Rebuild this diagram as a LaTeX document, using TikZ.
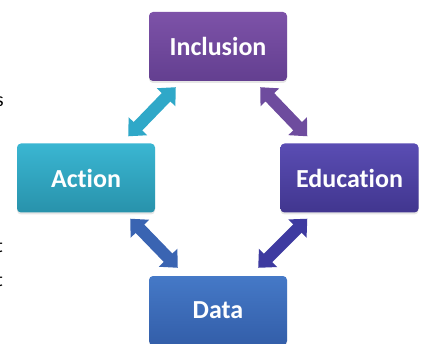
\documentclass[tikz,border=0pt]{standalone}
\usepackage{fontspec}
\setmainfont{Carlito}[Ligatures=NoCommon]
\usepackage{tikz}
\usetikzlibrary{arrows.meta,shadows,calc}

\definecolor{incltop}{HTML}{7D52A8}
\definecolor{inclbot}{HTML}{633F90}
\definecolor{acttop}{HTML}{3AB6D2}
\definecolor{actbot}{HTML}{2892AB}
\definecolor{edutop}{HTML}{5A4DB3}
\definecolor{edubot}{HTML}{41368F}
\definecolor{datatop}{HTML}{4579C7}
\definecolor{databot}{HTML}{335EA9}

\begin{document}
\begin{tikzpicture}[
  box/.style={rounded corners=4pt,minimum width=138pt,minimum height=69pt,inner sep=0pt,
    text=white,font=\fontsize{26}{30}\selectfont\bfseries,
    drop shadow={opacity=0.2,shadow xshift=0pt,shadow yshift=-2pt}},
  link/.style={line width=12pt,{Triangle[width=25pt,length=14pt]}-{Triangle[width=25pt,length=14pt]}},
  frag/.style={anchor=east,inner sep=0pt,font=\fontsize{20}{24}\selectfont}]
  \useasboundingbox (0,0) rectangle (423pt,343pt);

  \node[frag] (fs) at (4pt,241pt) {s};
  \node[frag] (ft1) at (3pt,97pt) {t};
  \node[frag] (ft2) at (3pt,63pt) {t};

  \node[box,top color=incltop,bottom color=inclbot] (incl) at (218pt,296.5pt) {Inclusion};
  \node[box,top color=acttop,bottom color=actbot] (act) at (86pt,165pt) {Action};
  \node[box,top color=edutop,bottom color=edubot] (edu) at (349.5pt,165pt) {Education};
  \node[box,top color=datatop,bottom color=databot] (data) at (218pt,32.5pt) {Data};

  \draw[link,color={rgb,255:red,47;green,168;blue,200}]
    ([shift={(27pt,-6pt)}]incl.south west) -- ([shift={(-27pt,7pt)}]act.north east);
  \draw[link,color={rgb,255:red,110;green,76;blue,158}]
    ([shift={(-27pt,-6pt)}]incl.south east) -- ([shift={(27pt,7pt)}]edu.north west);
  \draw[link,color={rgb,255:red,58;green,100;blue,178}]
    ([shift={(-25pt,-6pt)}]act.south east) -- ([shift={(29pt,8pt)}]data.north west);
  \draw[link,color={rgb,255:red,62;green,58;blue,160}]
    ([shift={(27pt,-6pt)}]edu.south west) -- ([shift={(-29pt,8pt)}]data.north east);
\end{tikzpicture}
\end{document}
